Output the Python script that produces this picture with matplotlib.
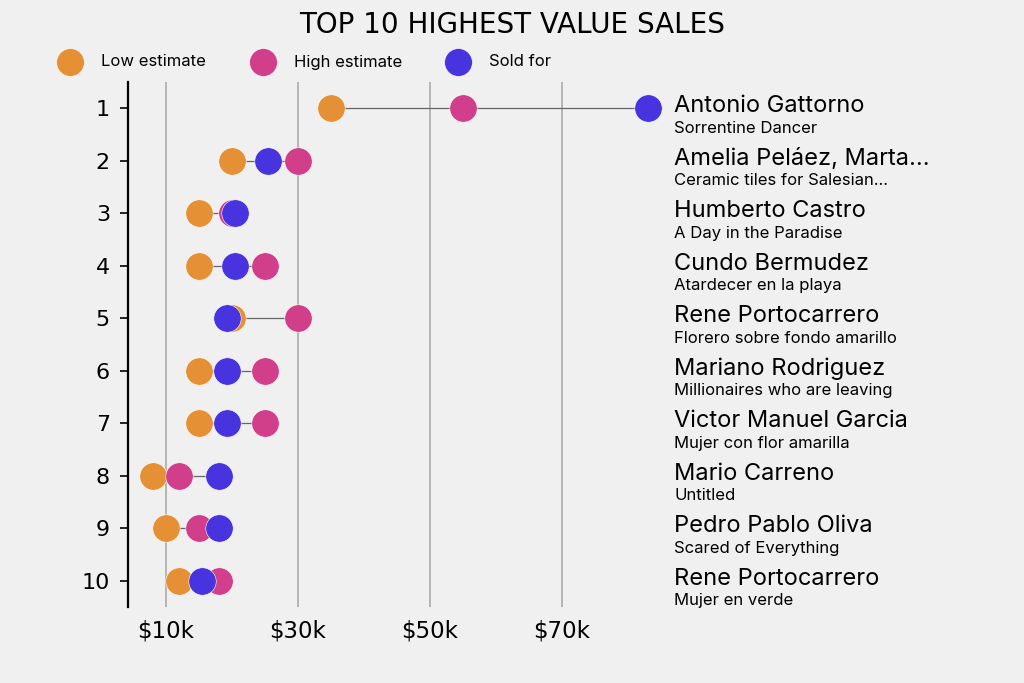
import numpy as np
import matplotlib.pyplot as plt
from matplotlib.lines import Line2D

# DATA
rank = [1, 2, 3, 4, 5, 6, 7, 8, 9, 10]
low_est = [35, 20, 15, 15, 20, 15, 15, 8, 10, 12]
high_est = [55, 30, 20, 25, 30, 25, 25, 12, 15, 18]
sold_for = [83, 25.5, 20.5, 20.5, 19.2, 19.2, 19.2, 18, 18, 15.5]
artists = ['Antonio Gattorno', 'Amelia Peláez, Marta...', 'Humberto Castro',
           'Cundo Bermudez', 'Rene Portocarrero', 'Mariano Rodriguez',
           'Victor Manuel Garcia', 'Mario Carreno', 'Pedro Pablo Oliva',
           'Rene Portocarrero']
works = ['Sorrentine Dancer', 'Ceramic tiles for Salesian...', 'A Day in the Paradise',
         'Atardecer en la playa', 'Florero sobre fondo amarillo',
         'Millionaires who are leaving', 'Mujer con flor amarilla', 'Untitled',
         'Scared of Everything', 'Mujer en verde']
xticks = [10, 30, 50, 70]
xticklabels = ['$10k', '$30k', '$50k', '$70k']
legend_labels = ['Low estimate', 'High estimate', 'Sold for']

c_low = '#E69036'
c_high = '#D13E8A'
c_sold = '#4834DE'
bg = '#f0f0f0'
label_font = ['Inter', 'DejaVu Sans']

fig = plt.figure(figsize=(10.24, 6.83), dpi=100, facecolor=bg)
ax = fig.add_axes([128 / 1024, 1 - 607 / 683, 537 / 1024, 525 / 683])
ax.set_facecolor(bg)

# connecting lines
lo = np.minimum(np.minimum(low_est, high_est), sold_for)
hi = np.maximum(np.maximum(low_est, high_est), sold_for)
ax.hlines(rank, lo, hi, color='#666666', linewidth=0.9, zorder=2)

ms = 390
ax.scatter(low_est, rank, s=ms, color=c_low, edgecolor='white', linewidth=0.4, zorder=3)
ax.scatter(high_est, rank, s=ms, color=c_high, edgecolor='white', linewidth=0.4, zorder=4)
ax.scatter(sold_for, rank, s=ms, color=c_sold, edgecolor='white', linewidth=0.4, zorder=5)

ax.set_xlim(4.24, 85.6)
ax.set_ylim(10.5, 0.5)
ax.set_yticks(rank)
ax.set_yticklabels([str(r) for r in rank], fontsize=16)
ax.set_xticks(xticks)
ax.set_xticklabels(xticklabels, fontsize=16.5)
ax.tick_params(axis='x', length=0, pad=9)
ax.tick_params(axis='y', length=6, width=1.2, pad=7)
ax.xaxis.grid(True, color='#b0b0b0', linewidth=1.3, zorder=0)
ax.set_axisbelow(True)
for s in ['top', 'right', 'bottom']:
    ax.spines[s].set_visible(False)
ax.spines['left'].set_linewidth(1.6)

# labels on the right
for r, a, w in zip(rank, artists, works):
    ax.annotate(a, xy=(1.017, r), xycoords=('axes fraction', 'data'),
                xytext=(0, 1.5), textcoords='offset points',
                fontsize=17, family=label_font, va='center', ha='left',
                annotation_clip=False)
    ax.annotate(w, xy=(1.017, r), xycoords=('axes fraction', 'data'),
                xytext=(0, -14.5), textcoords='offset points',
                fontsize=12, family=label_font, va='center', ha='left',
                annotation_clip=False)

fig.text(0.5, 1 - 25 / 683, 'TOP 10 HIGHEST VALUE SALES', ha='center', va='center', fontsize=20)

# legend, placed item by item
leg_x = [70, 263, 458]
for x, c, lab in zip(leg_x, (c_low, c_high, c_sold), legend_labels):
    fig.add_artist(Line2D([x / 1024], [1 - 62 / 683], marker='o', linestyle='',
                          markersize=20, color=c, markeredgecolor='white',
                          markeredgewidth=0.4, transform=fig.transFigure))
    fig.text((x + 31) / 1024, 1 - 62 / 683, lab, ha='left', va='center',
             fontsize=12, family=label_font)

fig.savefig('out.png', dpi=100, facecolor=bg)
